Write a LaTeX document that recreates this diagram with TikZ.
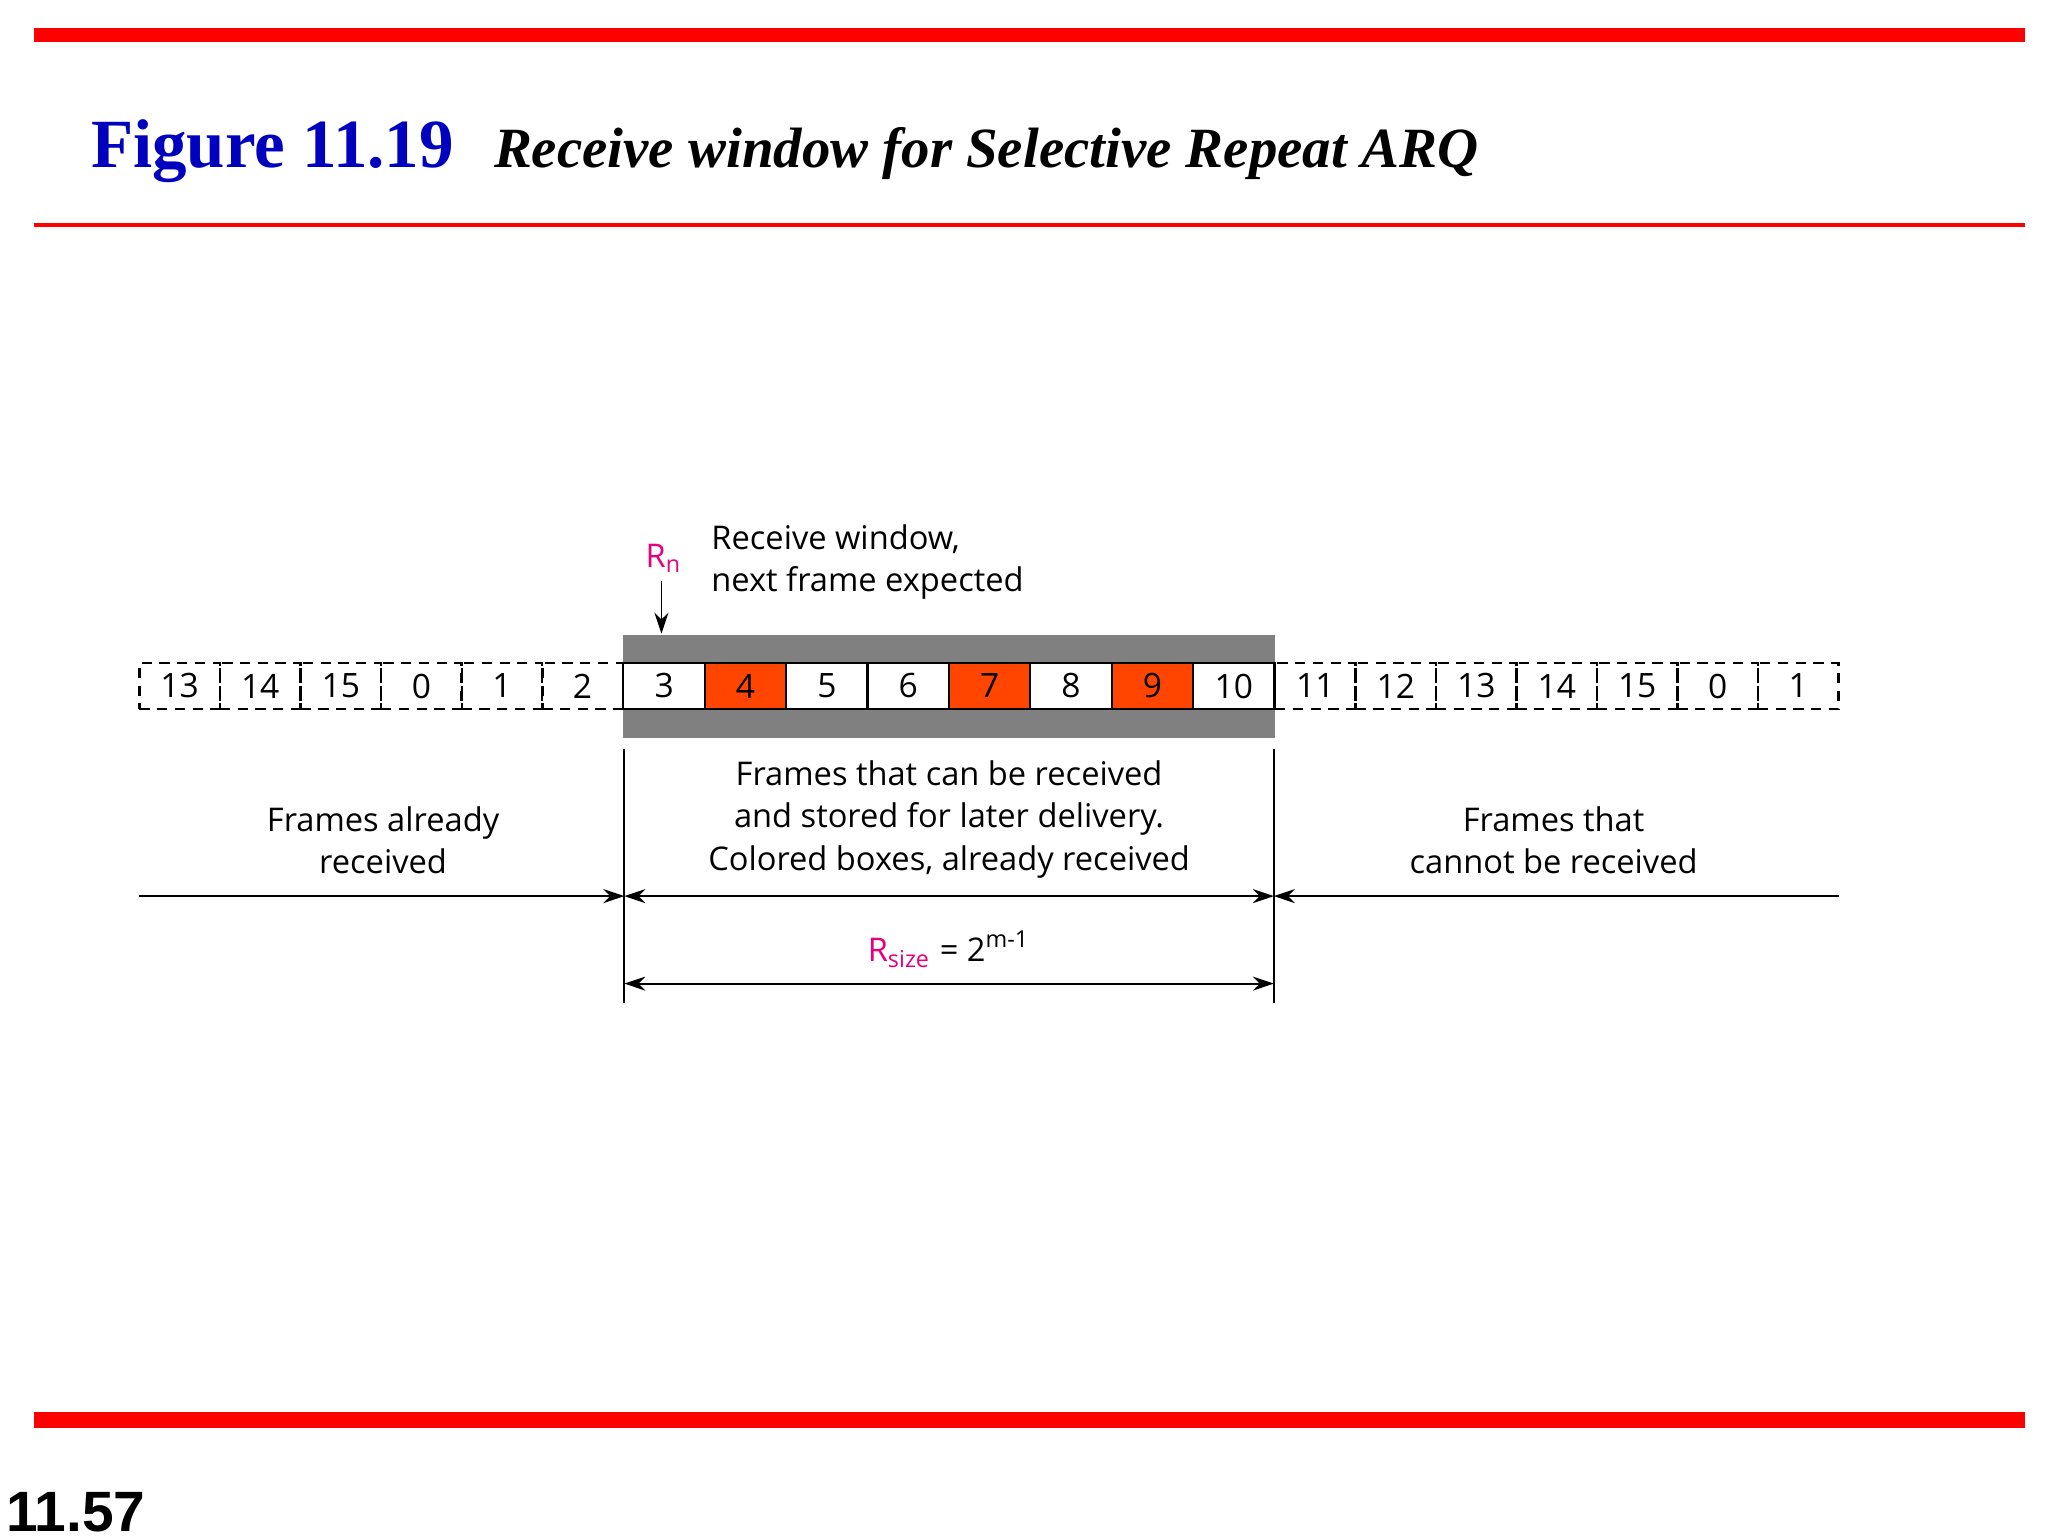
\documentclass[tikz,border=0pt]{standalone}
\usepackage{fontspec}
\setmainfont{Open Sans}
\newfontfamily\titlefont{Liberation Serif}
\newfontfamily\numfont{Liberation Sans}
\usetikzlibrary{arrows.meta}
\definecolor{fred}{RGB}{255,0,0}
\definecolor{boxred}{RGB}{255,69,0}
\definecolor{mag}{RGB}{230,0,126}
\definecolor{band}{RGB}{128,128,128}
\tikzset{
 dbox/.style={draw,dash pattern=on 2.2pt off 1.6pt,line width=0.5pt,minimum width=0.607cm,minimum height=0.35cm,inner sep=0pt,font=\fontsize{7.2}{9}\selectfont},
 wbox/.style={draw,line width=0.5pt,fill=white,minimum width=0.615cm,minimum height=0.35cm,inner sep=0pt,font=\fontsize{7.2}{9}\selectfont},
 lbl/.style={font=\fontsize{7}{9.1}\selectfont,align=center},
 arr/.style={-{Stealth[length=4.5pt,width=3pt]},line width=0.4pt},
 darr/.style={{Stealth[length=4.5pt,width=3pt]}-{Stealth[length=4.5pt,width=3pt]},line width=0.4pt}
}
\begin{document}
\begin{tikzpicture}[x=0.01cm,y=-0.01cm]
\useasboundingbox (0,0) rectangle (1545,1159);
\fill[fred] (26,21) rectangle (1528,32);
\fill[fred] (26,168) rectangle (1528,171);
\fill[fred] (26,1065) rectangle (1528,1077);
\node[anchor=base west,inner sep=0,text=blue!75!black,font=\titlefont\bfseries\fontsize{14.8}{17}\selectfont] (fig) at (68,126) {Figure 11.19};
\node[anchor=base west,inner sep=0,font=\titlefont\bfseries\itshape\fontsize{12.2}{15}\selectfont] (ttl) at (372,126) {Receive window for Selective Repeat ARQ};
\node[anchor=base west,inner sep=0,font=\numfont\bfseries\fontsize{12.2}{14}\selectfont] (pg) at (4,1155) {11.57};
% band
\fill[band] (470,479) rectangle (962,557);
\foreach \n [count=\i from 0] in {13,14,15,0,1,2}
  \node[dbox] (l\i) at (135.5+60.8*\i,517.5) {\n};
\foreach \n [count=\i from 0] in {3,4,5,6,7,8,9,10}{
  \ifnum\n=4 \def\fc{boxred}\else\ifnum\n=7 \def\fc{boxred}\else\ifnum\n=9 \def\fc{boxred}\else\def\fc{white}\fi\fi\fi
  \node[wbox,fill=\fc] (w\i) at (501+61.4*\i,517.5) {\n};}
\foreach \n [count=\i from 0] in {11,12,13,14,15,0,1}
  \node[dbox] (r\i) at (992.3+60.7*\i,517.5) {\n};
\node[text=mag,lbl,inner sep=0] (rn) at (501,421) {R\textsubscript{n}};
\coordinate (rntip) at (499,478);
\draw[arr] (499,438) -- (rntip);
\node[lbl,align=left,anchor=west,inner sep=0] (rw) at (536,424) {Receive window,\\next frame expected};
\coordinate (a1) at (471,565); \coordinate (a2) at (471,757);
\coordinate (b1) at (961,565); \coordinate (b2) at (961,757);
\draw[line width=0.4pt] (a1)--(a2) (b1)--(b2);
\coordinate (L) at (105,676); \coordinate (R) at (1387,676);
\coordinate (am) at (471,676); \coordinate (bm) at (961,676);
\draw[arr] (L)--(am);
\draw[darr] (am)--(bm);
\draw[arr] (R)--(bm);
\coordinate (as) at (471,742); \coordinate (bs) at (961,742);
\draw[darr] (as)--(bs);
\node[lbl] (t1) at (289,634) {Frames already\\received};
\node[lbl] (t2) at (716,618) {Frames that can be received\\and stored for later delivery.\\Colored boxes, already received};
\node[lbl] (t3) at (1172,634) {Frames that\\cannot be received};
\node[lbl] (rs) at (716,716) {\textcolor{mag}{R\textsubscript{size}} = 2\textsuperscript{m-1}};
\end{tikzpicture}
\end{document}
